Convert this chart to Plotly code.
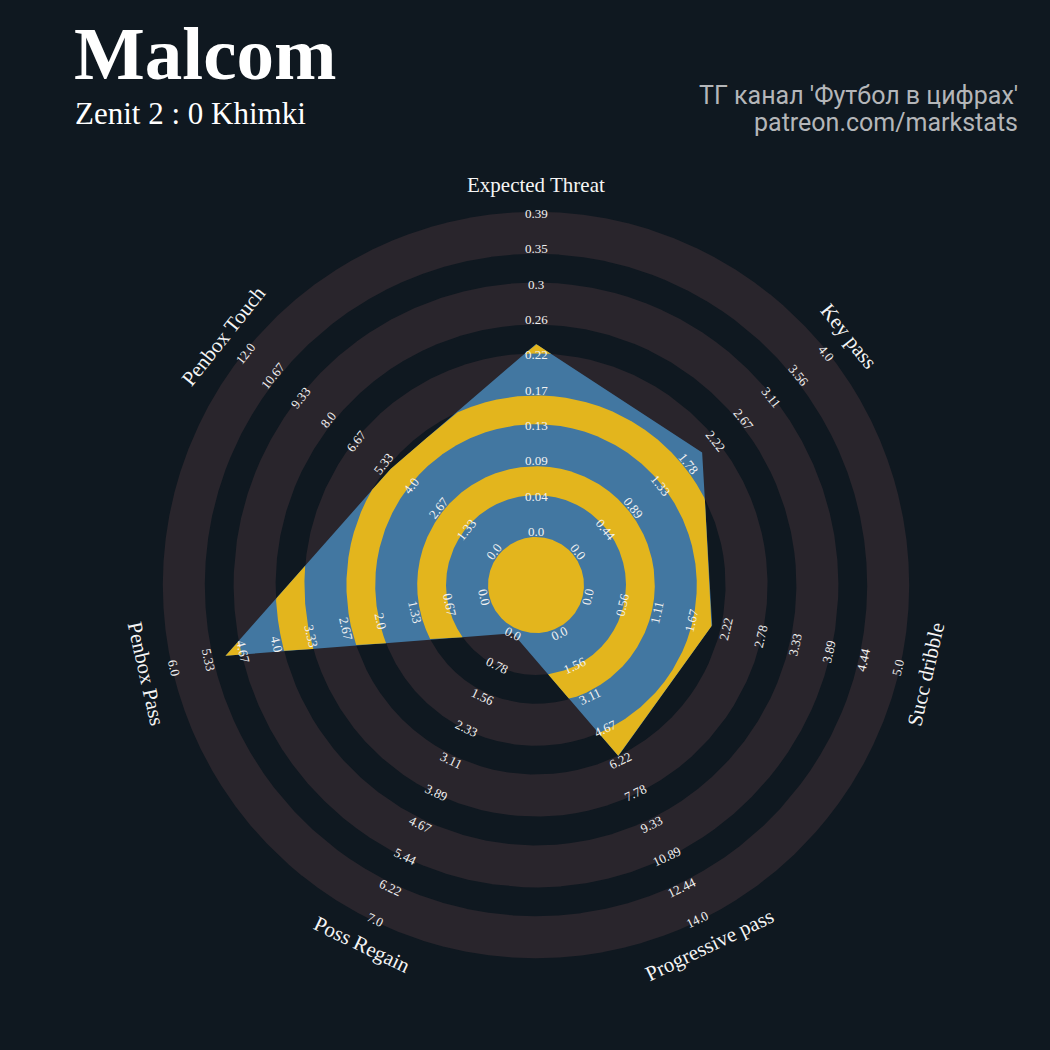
import numpy as np
import plotly.graph_objects as go

# ---------------- data ----------------
PARAMS = ["Expected Threat", "Key pass", "Succ dribble", "Progressive pass",
          "Poss Regain", "Penbox Pass", "Penbox Touch"]
LOW = [0.0, 0.0, 0.0, 0.0, 0.0, 0.0, 0.0]
HIGH = [0.39, 4.0, 5.0, 14.0, 7.0, 6.0, 12.0]
VALUES = [0.23, 2.0, 2.0, 6.0, 0.0, 5.0, 5.0]
N_TICKS = 10

TITLE = "Malcom"
SUBTITLE = "Zenit 2 : 0 Khimki"
CREDIT = ["ТГ канал 'Футбол в цифрах'", "patreon.com/markstats"]

# ---------------- style / geometry ----------------
BG = "#0F1820"
RING = "#29252C"
BLUE = "#4277A1"
YELLOW = "#E3B51D"
SERIF = "Liberation Serif"

W = H = 1050
CX, CY = 536, 585            # centre of radar in pixels
R_CENTER = 48                # centre circle
RING_START, RING_PERIOD, RING_W, N_RINGS = 48.0, 70.8, 42.0, 5
R0, R1 = 53.5, 371.5         # radius of low / high value
R_PARAM = 400

n = len(PARAMS)
step = 2 * np.pi / n
angles = np.pi / 2 - step * np.arange(n)


def to_r(i, v):
    return R0 + (v - LOW[i]) / (HIGH[i] - LOW[i]) * (R1 - R0)


radii = np.array([to_r(i, v) for i, v in enumerate(VALUES)])
PX = radii * np.cos(angles)
PY = radii * np.sin(angles)

# sample directions (clockwise from top), incl. exact vertex directions
phi = np.union1d(np.linspace(0, 2 * np.pi, 7201), step * np.arange(n + 1))
theta = np.pi / 2 - phi
dx, dy = np.cos(theta), np.sin(theta)


def poly_radius():
    k = np.clip(np.floor(phi / step + 1e-9).astype(int), 0, n - 1)
    i, j = k % n, (k + 1) % n
    ex, ey = PX[j] - PX[i], PY[j] - PY[i]
    num = PX[i] * ey - PY[i] * ex
    den = dx * ey - dy * ex
    return num / den


RPOLY = poly_radius()


def full_annulus(a, b):
    xs = list(b * dx)
    ys = list(b * dy)
    if a > 0:
        xs += list((a * dx)[::-1])
        ys += list((a * dy)[::-1])
    return xs, ys


def clipped_annulus(a, b):
    """Part of annulus [a, b] lying inside the radar polygon."""
    inside = RPOLY > a
    if inside.all():
        rout = np.minimum(RPOLY, b)
        xs = list(rout * dx)
        ys = list(rout * dy)
        if a > 0:
            xs += list((a * dx)[::-1])
            ys += list((a * dy)[::-1])
        return xs, ys
    xs, ys = [], []
    idx = np.where(inside)[0]
    runs = np.split(idx, np.where(np.diff(idx) != 1)[0] + 1)
    if len(runs) > 1 and runs[0][0] == 0 and runs[-1][-1] == len(phi) - 1:
        runs[0] = np.concatenate([runs[-1], runs[0]])
        runs = runs[:-1]
    for run in runs:
        rout = np.minimum(RPOLY[run], b)
        xs += list(rout * dx[run]) + list((a * dx[run])[::-1]) + [None]
        ys += list(rout * dy[run]) + list((a * dy[run])[::-1]) + [None]
    return xs, ys


fig = go.Figure()


def add_fill(xs, ys, color):
    fig.add_trace(go.Scatter(x=xs, y=ys, mode="lines", fill="toself",
                             fillcolor=color, line=dict(width=0, color=color),
                             hoverinfo="skip", showlegend=False))


# grey rings
for k in range(N_RINGS):
    a = RING_START + k * RING_PERIOD
    xs, ys = full_annulus(a, a + RING_W)
    add_fill(xs, ys, RING)

# radar polygon
add_fill(list(PX) + [PX[0]], list(PY) + [PY[0]], BLUE)

# yellow bands inside polygon (centre + gaps between grey rings)
xs, ys = full_annulus(0, R_CENTER)
add_fill(xs, ys, YELLOW)
for k in range(N_RINGS - 1):
    a = RING_START + k * RING_PERIOD + RING_W
    b = RING_START + (k + 1) * RING_PERIOD
    xs, ys = clipped_annulus(a, b)
    add_fill(xs, ys, YELLOW)

annotations = []
for i, p in enumerate(PARAMS):
    adeg = (np.degrees(angles[i]) + 180) % 360 - 180
    rot = adeg - 90 if adeg >= 0 else adeg + 90
    ca, sa = np.cos(angles[i]), np.sin(angles[i])
    annotations.append(dict(x=R_PARAM * ca, y=R_PARAM * sa, xref="x", yref="y",
                            text=p, showarrow=False, textangle=-rot,
                            xanchor="center", yanchor="middle",
                            font=dict(family=SERIF, size=21, color="#F5F5F5")))
    for k in range(N_TICKS):
        val = LOW[i] + k * (HIGH[i] - LOW[i]) / (N_TICKS - 1)
        r = R0 + k * (R1 - R0) / (N_TICKS - 1)
        annotations.append(dict(x=r * ca, y=r * sa, xref="x", yref="y",
                                text=str(round(val, 2)), showarrow=False,
                                textangle=-rot, xanchor="center", yanchor="middle",
                                font=dict(family=SERIF, size=13, color="#F2F2F2")))

annotations += [
    dict(x=72 / W, y=1 - 54 / H, xref="paper", yref="paper", text="<b>%s</b>" % TITLE,
         showarrow=False, xanchor="left", yanchor="middle",
         font=dict(family=SERIF, size=75, color="#FFFFFF")),
    dict(x=73 / W, y=1 - 114 / H, xref="paper", yref="paper", text=SUBTITLE,
         showarrow=False, xanchor="left", yanchor="middle",
         font=dict(family=SERIF, size=31, color="#FFFFFF")),
    dict(x=1020 / W, y=1 - 96 / H, xref="paper", yref="paper", text=CREDIT[0],
         showarrow=False, xanchor="right", yanchor="middle",
         font=dict(family="Roboto", size=25, color="#B4B6B9")),
    dict(x=1020 / W, y=1 - 123 / H, xref="paper", yref="paper", text=CREDIT[1],
         showarrow=False, xanchor="right", yanchor="middle",
         font=dict(family="Roboto", size=25, color="#B4B6B9")),
]

fig.update_layout(
    width=W, height=H, margin=dict(l=0, r=0, t=0, b=0),
    paper_bgcolor=BG, plot_bgcolor=BG,
    xaxis=dict(range=[-CX, W - CX], visible=False, fixedrange=True),
    yaxis=dict(range=[-(H - CY), CY], visible=False, fixedrange=True),
    annotations=annotations, showlegend=False,
)

fig.write_html("out.html", config={"displayModeBar": False},
               post_script="document.body.style.margin='0';"
                           "document.body.style.background='%s';" % BG)
